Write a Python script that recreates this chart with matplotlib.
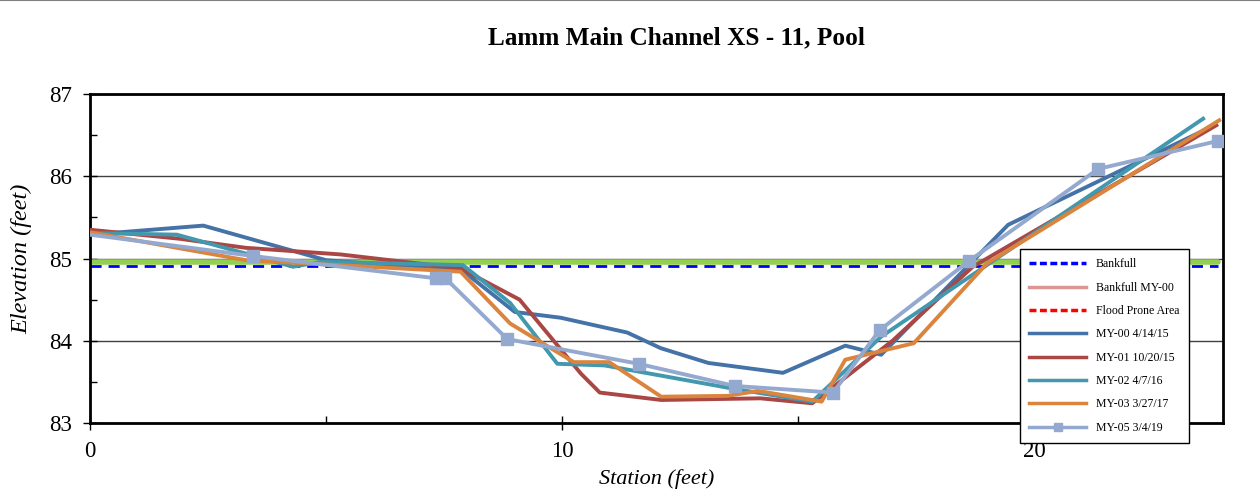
import matplotlib.pyplot as plt
from matplotlib.lines import Line2D

# Cross-section survey data (station, elevation in feet)
my00_sta = [0.0, 2.4, 5.0, 7.9, 9.0, 9.97, 11.38, 12.09, 13.1, 14.68, 16.0, 16.76, 19.45, 23.82]
my00_elev = [85.29, 85.40, 84.98, 84.85, 84.35, 84.28, 84.10, 83.91, 83.73, 83.61, 83.94, 83.83, 85.41, 86.62]

my01_sta = [0.0, 1.9, 3.3, 5.3, 7.85, 9.1, 10.4, 10.8, 12.1, 14.2, 15.3, 17.0, 18.7, 23.86]
my01_elev = [85.35, 85.24, 85.13, 85.05, 84.88, 84.50, 83.60, 83.37, 83.28, 83.30, 83.24, 84.0, 84.9, 86.62]

my02_sta = [0.0, 1.84, 3.3, 4.3, 4.9, 7.9, 8.9, 9.9, 10.9, 13.6, 15.3, 16.76, 23.58]
my02_elev = [85.31, 85.29, 85.06, 84.90, 84.96, 84.92, 84.46, 83.72, 83.70, 83.42, 83.26, 84.05, 86.70]

my03_sta = [0.0, 3.3, 7.85, 8.9, 10.25, 11.0, 12.1, 13.5, 14.15, 15.5, 16.0, 17.45, 19.0, 23.92]
my03_elev = [85.32, 84.98, 84.84, 84.21, 83.74, 83.74, 83.32, 83.33, 83.39, 83.26, 83.77, 83.97, 84.94, 86.68]

my05_sta = [0.0, 3.46, 7.32, 7.53, 8.84, 11.62, 13.66, 15.74, 16.73, 18.62, 21.36, 23.9]
my05_elev = [85.29, 85.03, 84.76, 84.76, 84.02, 83.72, 83.45, 83.37, 84.13, 84.97, 86.09, 86.43]

bankfull_sta = [0.0, 23.9]
bankfull_elev = [84.91, 84.91]
bankfull_green_elev = [84.96, 84.96]

plt.rcParams['font.family'] = ['Liberation Serif', 'DejaVu Serif']

fig = plt.figure(figsize=(12.6, 4.98), dpi=100)
ax = fig.add_axes([0.0714, 0.1506, 0.8992, 0.6606])

# bankfull reference lines
ax.plot(bankfull_sta, bankfull_green_elev, color='#92d050', lw=4, solid_capstyle='round', zorder=2)
ax.plot(bankfull_sta, bankfull_elev, color='#0000ff', lw=2, ls=(0, (4, 2.5)), zorder=2)

ax.plot(my00_sta, my00_elev, color='#4572a7', lw=2.8, zorder=3)
ax.plot(my01_sta, my01_elev, color='#aa4643', lw=2.8, zorder=3)
ax.plot(my02_sta, my02_elev, color='#4198af', lw=2.8, zorder=3)
ax.plot(my03_sta, my03_elev, color='#db843d', lw=2.8, zorder=3)
ax.plot(my05_sta, my05_elev, color='#93a9cf', lw=2.8, marker='s', markersize=9,
        markevery=list(range(1, len(my05_sta))), zorder=4)

ax.set_xlim(0, 24)
ax.set_ylim(83, 87)
ax.set_xticks([0, 10, 20])
ax.set_xticks([5, 15], minor=True)
ax.set_yticks([83, 84, 85, 86, 87])
ax.set_yticks([83.5, 84.5, 85.5, 86.5], minor=True)
ax.tick_params(which='major', direction='inout', length=10, width=1, labelsize=16.5)
ax.tick_params(axis='x', which='major', pad=8)
ax.tick_params(axis='y', which='major', pad=8)
ax.tick_params(which='minor', direction='in', length=5, width=1)
ax.grid(axis='y', which='major', color='#404040', lw=1)
ax.set_axisbelow(True)
for s in ax.spines.values():
    s.set_linewidth(2)

ax.set_xlabel('Station (feet)', fontsize=16, style='italic', labelpad=5)
ax.set_ylabel('Elevation (feet)', fontsize=17.5, style='italic', labelpad=12)
fig.text(0.537, 0.925, 'Lamm Main Channel XS - 11, Pool', ha='center', va='center',
         fontsize=18.2, fontweight='bold')

# legend
handles = [
    Line2D([], [], color='#0000ff', lw=2.5, ls=(0, (2, 1))),
    Line2D([], [], color='#d99694', lw=2.5),
    Line2D([], [], color='#ff0000', lw=2.5, ls=(0, (2, 1))),
    Line2D([], [], color='#4572a7', lw=2.5),
    Line2D([], [], color='#aa4643', lw=2.5),
    Line2D([], [], color='#4198af', lw=2.5),
    Line2D([], [], color='#db843d', lw=2.5),
    Line2D([], [], color='#93a9cf', lw=2.5, marker='s', markersize=6),
]
labels = ['Bankfull', 'Bankfull MY-00', 'Flood Prone Area', 'MY-00 4/14/15',
          'MY-01 10/20/15', 'MY-02 4/7/16', 'MY-03 3/27/17', 'MY-05 3/4/19']
leg = ax.legend(handles, labels, loc='upper left', bbox_to_anchor=(1020 / 1260, 1 - 249 / 498),
                bbox_transform=fig.transFigure, fontsize=8.5, frameon=True, fancybox=False,
                framealpha=1, edgecolor='black', handlelength=4.8, labelspacing=0.96,
                borderpad=0.8, handletextpad=0.8, borderaxespad=0)
leg.get_frame().set_linewidth(1)
leg.set_zorder(10)

# thin gray border along the top of the image
fig.add_artist(Line2D([0, 1], [0.999, 0.999], color='gray', lw=1.5, transform=fig.transFigure))

plt.savefig('out.png', dpi=100)
